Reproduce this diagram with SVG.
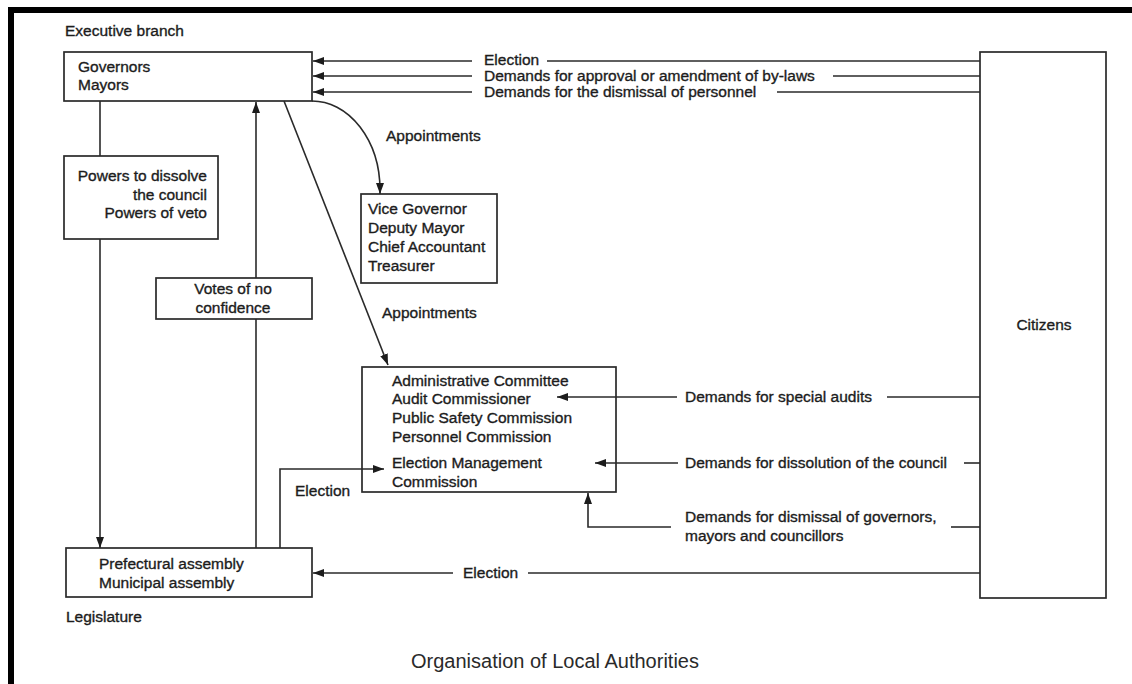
<svg xmlns="http://www.w3.org/2000/svg" width="1132" height="684" viewBox="0 0 1132 684">
  <style>
    .lbl { font-family: "Liberation Sans", Arial, sans-serif; font-size: 15.5px; fill: #1c1c1c; stroke: #1c1c1c; stroke-width: 0.35; }
    .title { font-family: "Liberation Sans", Arial, sans-serif; font-size: 20px; fill: #2a2a2a; }
    .box { fill: #ffffff; stroke: #2a2a2a; stroke-width: 1.7; }
    .ln { fill: none; stroke: #2a2a2a; stroke-width: 1.6; }
    .arr { marker-end: url(#head); }
  </style>
  <defs>
    <marker id="head" markerUnits="userSpaceOnUse" markerWidth="11" markerHeight="8" refX="11" refY="4" orient="auto">
      <path d="M0,0 L11,4 L0,8 z" fill="#1c1c1c"/>
    </marker>
  </defs>

  <rect width="1132" height="684" fill="#ffffff"/>

  <!-- page frame -->
  <rect x="8" y="7" width="1124" height="6" fill="#000"/>
  <rect x="8" y="7" width="6" height="677" fill="#000"/>

  <!-- section captions -->
  <text class="lbl" x="65" y="36">Executive branch</text>
  <text class="lbl" x="66" y="622">Legislature</text>
  <text class="title" x="411" y="668">Organisation of Local Authorities</text>

  <!-- nodes -->
  <g id="governors">
    <rect class="box" x="64" y="52" width="248" height="49"/>
    <text class="lbl" x="78" y="72">Governors</text>
    <text class="lbl" x="78" y="90">Mayors</text>
  </g>

  <g id="powers">
    <rect class="box" x="64" y="156" width="154" height="83"/>
    <text class="lbl" x="207" y="181" text-anchor="end">Powers to dissolve</text>
    <text class="lbl" x="207" y="200" text-anchor="end">the council</text>
    <text class="lbl" x="207" y="218" text-anchor="end">Powers of veto</text>
  </g>

  <g id="no-confidence">
    <rect class="box" x="156" y="278" width="156" height="41"/>
    <text class="lbl" x="233" y="294" text-anchor="middle">Votes of no</text>
    <text class="lbl" x="233" y="313" text-anchor="middle">confidence</text>
  </g>

  <g id="vice">
    <rect class="box" x="361" y="194" width="136" height="89"/>
    <text class="lbl" x="368" y="214">Vice Governor</text>
    <text class="lbl" x="368" y="233">Deputy Mayor</text>
    <text class="lbl" x="368" y="252">Chief Accountant</text>
    <text class="lbl" x="368" y="271">Treasurer</text>
  </g>

  <g id="commissions">
    <rect class="box" x="362" y="367" width="254" height="125"/>
    <text class="lbl" x="392" y="386">Administrative Committee</text>
    <text class="lbl" x="392" y="404">Audit Commissioner</text>
    <text class="lbl" x="392" y="423">Public Safety Commission</text>
    <text class="lbl" x="392" y="442">Personnel Commission</text>
    <text class="lbl" x="392" y="468">Election Management</text>
    <text class="lbl" x="392" y="487">Commission</text>
  </g>

  <g id="assembly">
    <rect class="box" x="66" y="548" width="246" height="49"/>
    <text class="lbl" x="99" y="569">Prefectural assembly</text>
    <text class="lbl" x="99" y="588">Municipal assembly</text>
  </g>

  <g id="citizens">
    <rect class="box" x="980" y="52" width="126" height="546"/>
    <text class="lbl" x="1044" y="330" text-anchor="middle">Citizens</text>
  </g>

  <!-- connectors -->
  <g id="connectors">
    <!-- citizens to governors / mayors -->
    <path class="ln" d="M980,61 H547"/>
    <path class="ln arr" d="M472,61 H313"/>
    <text class="lbl" x="484" y="65">Election</text>
    <path class="ln" d="M980,76 H833"/>
    <path class="ln arr" d="M472,76 H313"/>
    <text class="lbl" x="484" y="81">Demands for approval or amendment of by-laws</text>
    <path class="ln" d="M980,92 H777"/>
    <path class="ln arr" d="M472,92 H313"/>
    <text class="lbl" x="484" y="97">Demands for the dismissal of personnel</text>

    <!-- appointments -->
    <path class="ln arr" d="M312,101 A68,89 0 0 1 380,190 V194"/>
    <text class="lbl" x="386" y="141">Appointments</text>
    <path class="ln arr" d="M284,101 L388,365"/>
    <text class="lbl" x="382" y="318">Appointments</text>

    <!-- executive / legislature -->
    <path class="ln" d="M100,101 V156"/>
    <path class="ln arr" d="M100,239 V548"/>
    <path class="ln" d="M256,548 V319"/>
    <path class="ln arr" d="M256,278 V102"/>

    <!-- assembly elects the election management commission -->
    <path class="ln arr" d="M280,548 V469 H384"/>
    <text class="lbl" x="295" y="496">Election</text>

    <!-- citizens' demands to commissions -->
    <path class="ln" d="M980,397 H887"/>
    <path class="ln arr" d="M677,397 H557"/>
    <text class="lbl" x="685" y="402">Demands for special audits</text>
    <path class="ln" d="M980,463 H964"/>
    <path class="ln arr" d="M678,463 H595"/>
    <text class="lbl" x="685" y="468">Demands for dissolution of the council</text>
    <path class="ln" d="M980,527 H951"/>
    <path class="ln arr" d="M671,527 H588 V493"/>
    <text class="lbl" x="685" y="522">Demands for dismissal of governors,</text>
    <text class="lbl" x="685" y="541">mayors and councillors</text>

    <!-- citizens elect the assembly -->
    <path class="ln" d="M980,573 H528"/>
    <path class="ln arr" d="M453,573 H313"/>
    <text class="lbl" x="463" y="578">Election</text>
  </g>
</svg>
